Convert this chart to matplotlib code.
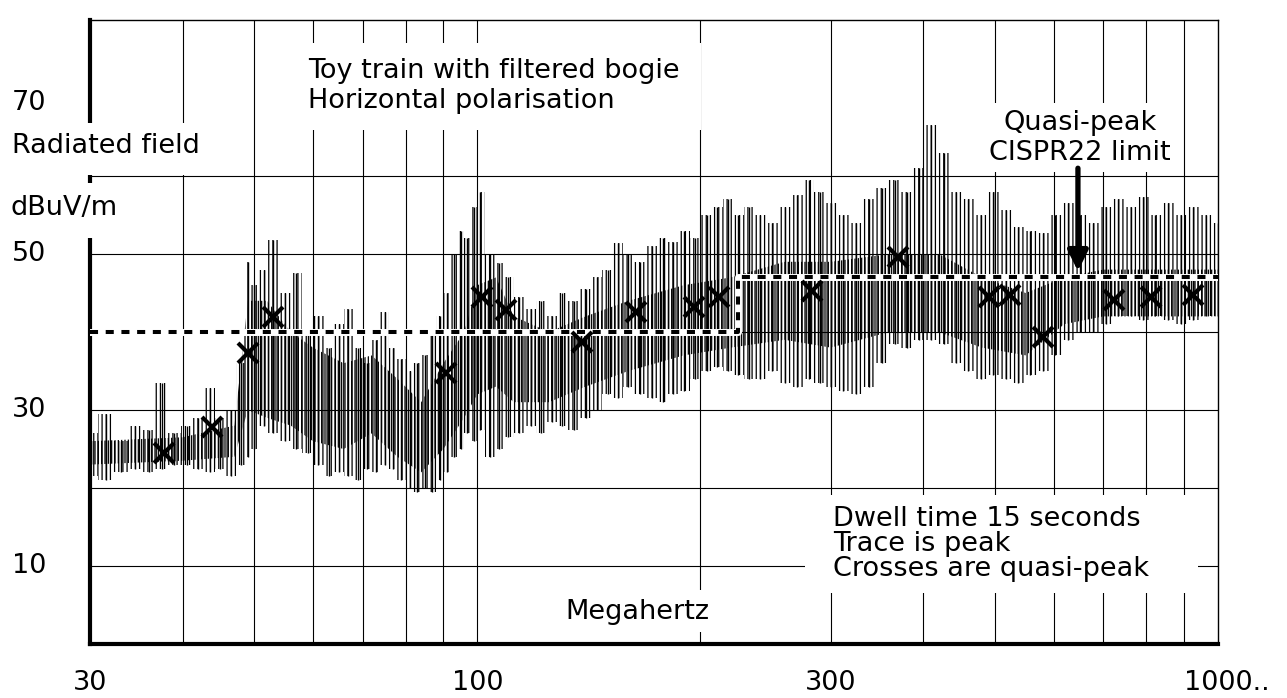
import matplotlib.pyplot as plt
from matplotlib.patches import Rectangle
from matplotlib import transforms

freq = [30, 31.5, 33, 34.5, 36, 37.5, 39, 40.5, 42, 43.5, 45, 46.5, 48, 49,
        50, 51.5, 53, 55, 57, 59, 61, 63, 65, 67, 69, 71, 73, 75, 77, 79,
        81, 83, 85, 87, 89, 91, 93, 95, 97, 99, 101, 104, 107, 110, 114,
        118, 122, 126, 130, 135, 140, 145, 150, 155, 160, 166, 172, 178,
        184, 190, 197, 204, 211, 218, 225, 233, 241, 250, 260, 270, 280,
        290, 300, 312, 325, 338, 352, 366, 380, 395, 410, 426, 443, 460,
        478, 497, 517, 537, 558, 580, 603, 627, 652, 678, 705, 733, 762,
        792, 823, 856, 890, 925, 962, 1000]
peak_hi = [27, 29.5, 26, 28, 27.5, 33.5, 27, 28, 29, 32.8, 29, 30, 36, 49,
           46, 48, 51.8, 45, 47.5, 40, 42, 38, 41, 43, 38, 36, 39, 42.5, 38,
           36.5, 35, 36, 37, 40, 42, 45, 50, 53, 52, 56, 58, 50, 48.8, 47,
           44.5, 43, 44, 42, 45, 44, 45.5, 47, 48, 51.4, 50, 49, 51, 52,
           51.5, 53, 52, 55, 56, 57, 55, 56, 55, 54, 56, 57.5, 59.5, 58,
           56.5, 55, 54, 57, 58.5, 59.5, 58, 61, 66.5, 63, 58, 57, 55, 58,
           55.6, 53.5, 53, 52.7, 55, 56.5, 55, 54, 56, 57, 56, 57.3, 55,
           56.5, 55, 56, 55, 54]
peak_lo = [21.5, 21, 22, 22.5, 22, 22.5, 23, 23, 22.5, 22, 22.5, 21.5, 23,
           24, 25, 28, 27, 26, 25, 24.5, 23, 21.5, 22, 21.5, 21, 22.5, 22,
           23, 22.5, 21, 20, 19.5, 20, 19.5, 21, 22, 24, 25, 27, 26, 27.5,
           24, 25, 26.5, 27, 28, 27, 28.5, 28, 27.5, 29, 30, 32, 31.5, 33,
           32, 31.5, 31, 32, 32.5, 34, 35, 35.5, 35, 34.5, 34, 34, 35, 33.5,
           33, 34, 33.5, 33, 32.5, 32, 33, 36, 38.5, 38, 39, 39, 38.5, 36,
           35, 34, 34.5, 34, 33.5, 34.5, 35, 37, 39, 40, 40, 41, 42, 42,
           41.5, 42, 41.5, 41, 41.5, 42, 42]

# dense core of the trace
core_freq = [30, 40, 47, 49, 52, 56, 60, 66, 72, 78, 84, 90, 96, 100, 106,
             112, 125, 140, 160, 190, 220, 260, 300, 360, 420, 480, 550, 620,
             700, 800, 1000]
core_hi = [26, 26.5, 28, 44, 44, 40, 38, 36, 37, 34, 31, 36, 40, 46, 47, 42,
           40, 42, 44, 46, 47, 49, 49, 50, 50, 47, 45, 47, 48, 48, 48]
core_lo = [23, 23.5, 24, 30, 29, 28, 26, 25, 27, 24, 22, 25, 29, 32, 33, 31,
           31, 33, 35, 37, 38, 39, 38, 40, 40, 38, 37, 41, 42, 42, 42]

# quasi-peak readings (the crosses)
qp_freq = [37.8, 43.9, 49.0, 53.0, 90.6, 101.5, 109.4, 138.6, 164, 196,
           212, 283, 370, 490, 524, 580, 723, 811, 925]
qp_level = [24.5, 27.8, 37.3, 41.9, 34.7, 44.5, 42.8, 38.7, 42.6, 43.2,
            44.5, 45.2, 49.6, 44.5, 44.8, 39.4, 44.1, 44.5, 44.7]

# CISPR22 quasi-peak limit
limit_freq = [30, 225, 225, 1000]
limit_level = [40, 40, 47, 47]

grid_mhz = [40, 50, 60, 70, 80, 90, 100, 200, 300, 400, 500, 600, 700, 800, 900]
grid_db = [10, 20, 30, 40, 50, 60]
x_ticks = [30, 100, 300]
y_ticks = [70, 50, 30, 10]

W, H = 1287, 698
FS = 19.5
plt.rcParams['font.family'] = 'DejaVu Sans'
plt.rcParams['hatch.linewidth'] = 0.9

fig = plt.figure(figsize=(W / 100, H / 100), dpi=100)
ax = fig.add_axes([90 / W, (H - 644) / H, (1218 - 90) / W, (644 - 20) / H])
ax.set_xscale('log')
ax.set_xlim(30, 1000)
ax.set_ylim(0, 80)
ax.xaxis.set_major_locator(plt.NullLocator())
ax.xaxis.set_minor_locator(plt.NullLocator())
ax.yaxis.set_major_locator(plt.NullLocator())

for side in ['left', 'bottom']:
    ax.spines[side].set_linewidth(3)
for side in ['top', 'right']:
    ax.spines[side].set_linewidth(1)

ax.vlines(grid_mhz, 0, 80, colors='black', lw=0.8, zorder=1)
ax.hlines(grid_db, 30, 1000, colors='black', lw=0.8, zorder=1)

# trace: sparse spikes out to the envelope, denser core
ax.fill_between(freq, peak_lo, peak_hi, step='mid', facecolor='none',
                edgecolor='black', hatch='||||', linewidth=0, zorder=2)
ax.vlines(freq, peak_lo, peak_hi, colors='black', lw=1.0, zorder=2)
ax.fill_between(core_freq, core_lo, core_hi, facecolor='none',
                edgecolor='black', hatch='|||||', linewidth=0, zorder=2)

# limit line, white underlay so trace breaks round the dashes
ax.plot(limit_freq, limit_level, color='white', lw=5, zorder=3)
ax.plot(limit_freq, limit_level, color='black', lw=2.9, zorder=3,
        dashes=(2.0, 1.9))

ax.plot(qp_freq, qp_level, 'x', color='black', ms=14, mew=3, zorder=4)

# arrow to the limit
ax.annotate('', xy=(647, 47.8), xytext=(647, 61),
            arrowprops=dict(arrowstyle='-|>', lw=3.8, color='black',
                            mutation_scale=30, shrinkA=0, shrinkB=0),
            zorder=6)


def mask(x0, y0, x1, y1):
    ax.add_patch(Rectangle((x0 / W, 1 - y1 / H), (x1 - x0) / W, (y1 - y0) / H,
                           transform=fig.transFigure, facecolor='white',
                           edgecolor='none', zorder=5, clip_on=False))


def label(x, y, s, **kw):
    fig.text(x / W, 1 - y / H, s, fontsize=FS, zorder=7, **kw)


mask(8, 123, 206, 175)
mask(8, 183, 125, 238)
mask(300, 43, 701, 130)
mask(978, 103, 1180, 172)
mask(805, 495, 1198, 593)
mask(555, 590, 720, 632)

label(12, 103, '70', va='center')
label(12, 146, 'Radiated field', va='center')
label(10, 208, 'dBuV/m', va='center')
ytrans = transforms.blended_transform_factory(fig.transFigure, ax.transData)
for v in y_ticks[1:]:
    fig.text(12 / W, v, str(v), fontsize=FS, va='center', transform=ytrans,
             zorder=7)

xt = ax.get_xaxis_transform()
for v in x_ticks:
    ax.text(v, -0.0625, str(v), transform=xt, fontsize=FS, ha='center',
            va='center', clip_on=False)
ax.text(1000, -0.0625, '1000..', fontsize=FS, ha='left', va='center',
        clip_on=False,
        transform=transforms.offset_copy(xt, fig=fig, x=-34, y=0, units='dots'))

label(308, 86, 'Toy train with filtered bogie\nHorizontal polarisation',
      va='center', linespacing=1.15)
label(1080, 138, 'Quasi-peak\nCISPR22 limit', va='center', ha='center',
      linespacing=1.15)
label(833, 544, 'Dwell time 15 seconds\nTrace is peak\nCrosses are quasi-peak',
      va='center', linespacing=0.95)
label(637, 612, 'Megahertz', va='center', ha='center')

fig.savefig('out.png', dpi=100)
